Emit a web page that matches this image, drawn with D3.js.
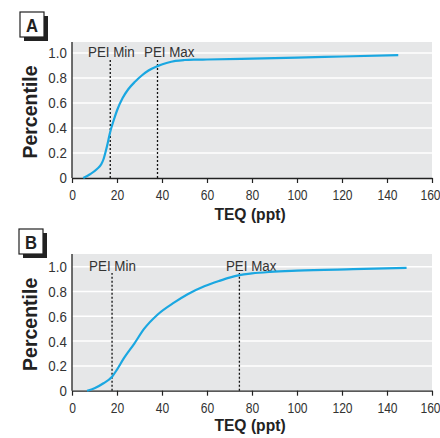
<!DOCTYPE html>
<html><head><meta charset="utf-8">
<script src="https://cdn.jsdelivr.net/npm/d3@7"></script>
<style>
body{margin:0;background:#fff;}
text{font-family:"Liberation Sans",Arial,sans-serif;}
</style></head>
<body><svg id="c" width="440" height="438"></svg>
<script>
// ---- data ----
const xTicks = [0,20,40,60,80,100,120,140,160];
const yTicks = [0,0.2,0.4,0.6,0.8,1.0];
const yTickLabels = ["0","0.2","0.4","0.6","0.8","1.0"];

const teqA = [5,8,11,13,14,15.5,17,18.5,20,22.5,25,28,31,34,38,42,46,50,55,60,80,100,120,145];
const pctA = [0,0.03,0.07,0.11,0.15,0.25,0.37,0.46,0.54,0.64,0.71,0.77,0.82,0.86,0.895,0.92,0.937,0.944,0.947,0.948,0.955,0.963,0.972,0.983];
const peiA = [17, 38];
const peiLabelsA = ["PEI Min","PEI Max"];
const peiLabelXA = [7.1, 32];

const teqB = [6.7,10,14,17.8,20,23,27.7,32.1,38.1,45.5,51.4,58.8,65.5,70,74.4,80,88,100,125,148.7];
const pctB = [0,0.02,0.06,0.113,0.17,0.26,0.38,0.50,0.615,0.712,0.778,0.842,0.886,0.912,0.932,0.946,0.958,0.968,0.98,0.99];
const peiB = [17.8, 74.4];
const peiLabelsB = ["PEI Min","PEI Max"];
const peiLabelXB = [7.6, 68.4];

const svg = d3.select("#c");
const NARROW = 0.78;

function panel(opts){
  const {letter, boxX, boxY, top, y0, y1, teq, pct, pei, peiLabels, peiLabelX, titleY} = opts;
  const x = d3.scaleLinear().domain([0,160]).range([72,432]);
  const y = d3.scaleLinear().domain([0,1]).range([y0,y1]);
  const yTop = y.invert(top);
  const g = svg.append("g");
  // letter box with shadow
  g.append("rect").attr("x",boxX+4).attr("y",boxY+4).attr("width",24).attr("height",25).attr("fill","#222");
  g.append("rect").attr("x",boxX).attr("y",boxY).attr("width",24).attr("height",25).attr("fill","#fff").attr("stroke","#222").attr("stroke-width",1.2);
  g.append("text").attr("transform",`translate(${boxX+12},${boxY+19.5}) scale(0.9,1)`).attr("text-anchor","middle")
    .attr("font-size",18.5).attr("font-weight","bold").attr("fill","#222").text(letter);
  // background
  g.append("rect").attr("x",x(0)).attr("y",y(yTop)).attr("width",x(160)-x(0)).attr("height",y(0)-y(yTop)).attr("fill","#e6e7e8");
  // grid
  g.selectAll(".grid").data(yTicks.slice(1)).enter().append("line")
    .attr("x1",x(0)).attr("x2",x(160)).attr("y1",d=>y(d)).attr("y2",d=>y(d))
    .attr("stroke","#fff").attr("stroke-width",1.5);
  // x axis
  const xa = g.append("g").attr("transform",`translate(0,${y(0)})`)
    .call(d3.axisBottom(x).tickValues(xTicks).tickSize(5).tickSizeOuter(0).tickPadding(6));
  xa.select(".domain").attr("stroke","#222").attr("stroke-width",1.3);
  xa.selectAll(".tick line").attr("stroke","#222").attr("stroke-width",1.2);
  xa.selectAll("text").attr("font-size",15.5).attr("fill","#333")
    .attr("transform",d=>d===160?`translate(-2,0) scale(${NARROW},1)`:`scale(${NARROW},1)`);
  // y axis
  const ya = g.append("g").attr("transform",`translate(${x(0)},0)`)
    .call(d3.axisLeft(y).tickValues(yTicks).tickFormat((d,i)=>yTickLabels[i]).tickSize(0).tickPadding(6));
  ya.select(".domain").attr("d",`M0,${y(yTop)}V${y(0)}`).attr("stroke","#222").attr("stroke-width",1.3);
  ya.selectAll("text").attr("font-size",15.5).attr("fill","#333").attr("transform",`scale(0.86,1)`);
  // pei lines
  g.selectAll(".pei").data(pei).enter().append("line")
    .attr("x1",d=>x(d)).attr("x2",d=>x(d)).attr("y1",y(0)).attr("y2",y(0.95))
    .attr("stroke","#111").attr("stroke-width",1.3).attr("stroke-dasharray","2,2");
  const ly = y(0)-(y(0)-y(1))*0.975+1;
  g.selectAll(".peil").data(peiLabels).enter().append("text")
    .attr("transform",(d,i)=>`translate(${x(peiLabelX[i])},${ly}) scale(0.88,1)`)
    .attr("font-size",15.2).attr("fill","#333").text(d=>d);
  // curve
  const pts = teq.map((t,i)=>[t,pct[i]]);
  g.append("path").datum(pts).attr("fill","none").attr("stroke","#1aa7e1").attr("stroke-width",2.2)
    .attr("d",d3.line().x(d=>x(d[0])).y(d=>y(d[1])).curve(d3.curveMonotoneX));
  // titles
  g.append("text").attr("transform",`translate(250,${titleY}) scale(0.92,1)`).attr("text-anchor","middle")
    .attr("font-size",17).attr("font-weight","bold").attr("fill","#222").text("TEQ (ppt)");
  g.append("text").attr("transform",`translate(37,${(y(0)+y(yTop))/2+2}) rotate(-90)`).attr("text-anchor","middle")
    .attr("font-size",19.5).attr("font-weight","bold").attr("fill","#222").text("Percentile");
}

panel({letter:"A", boxX:20, boxY:12, top:42, y0:178, y1:53, teq:teqA, pct:pctA, pei:peiA, peiLabels:peiLabelsA, peiLabelX:peiLabelXA, titleY:220});
panel({letter:"B", boxX:19, boxY:229, top:254, y0:390.7, y1:266.7, teq:teqB, pct:pctB, pei:peiB, peiLabels:peiLabelsB, peiLabelX:peiLabelXB, titleY:431});
</script></body></html>
